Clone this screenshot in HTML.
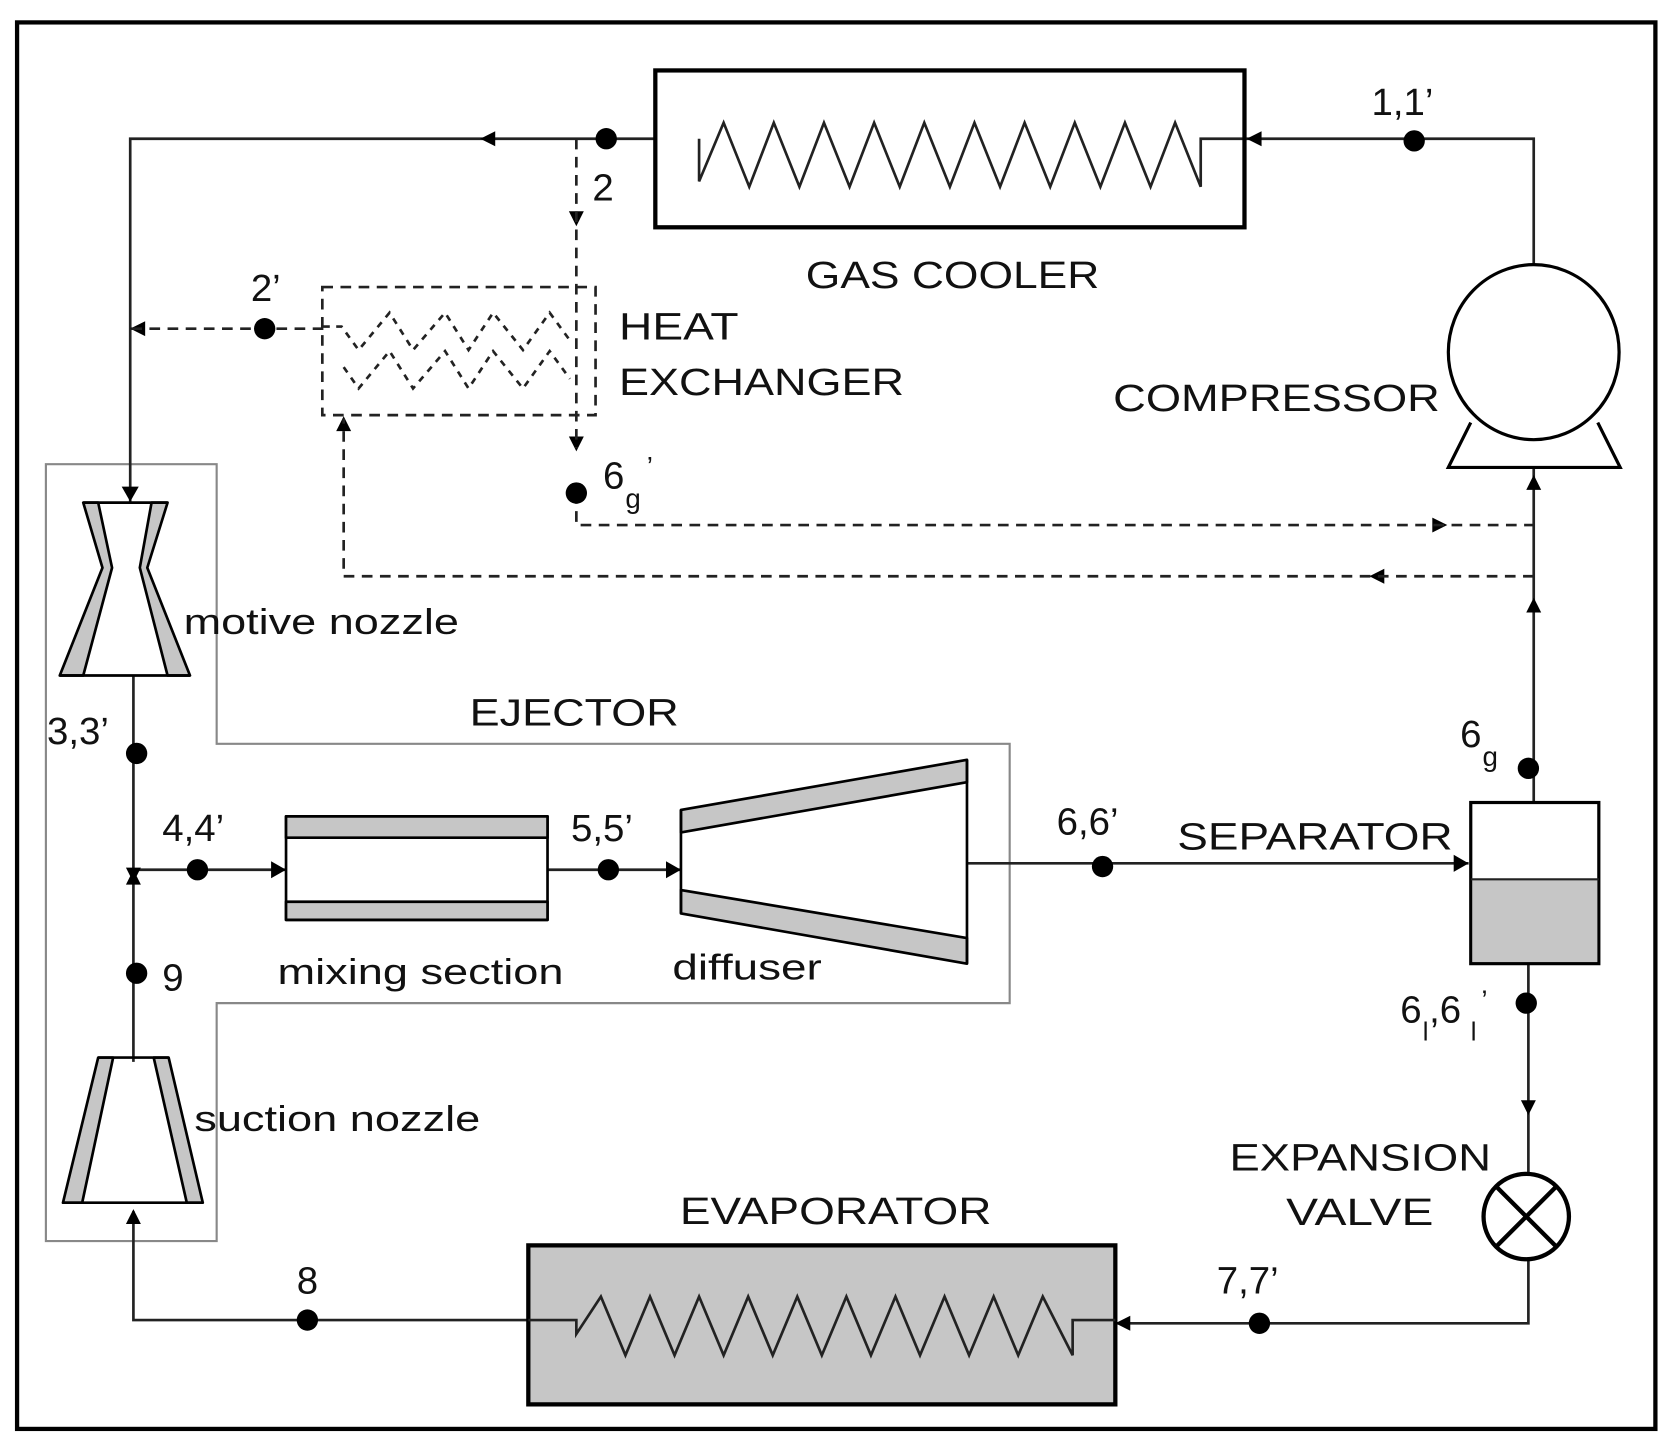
<!DOCTYPE html>
<html><head><meta charset="utf-8"><style>
html,body{margin:0;padding:0;background:#fff;width:1665px;height:1446px;overflow:hidden}
svg{display:block}
text{font-family:"Liberation Sans",Arial,sans-serif;fill:#111}
</style></head><body>
<svg width="1665" height="1446" viewBox="0 0 1560 1355" preserveAspectRatio="none" xmlns="http://www.w3.org/2000/svg">
<rect width="1560" height="1355" fill="#fff"/>
<rect x="16" y="21" width="1535" height="1318" fill="none" stroke="#000" stroke-width="4"/>

<path d="M43,435H203V697H946V940H203V1163H43Z" fill="none" stroke="#888" stroke-width="2"/>

<g stroke="#222" stroke-width="2.5" fill="none">
<path d="M1437,250V130H1166"/>
<path d="M614,130H122V470"/>
<path d="M655,130V170L678,115L702,175L725,115L749,175L772,115L796,175L819,115L843,175L866,115L890,175L913,115L937,175L960,115L984,175L1007,115L1031,175L1054,115L1078,175L1101,115L1125,175V130H1166"/>
<path d="M1437,438V752"/>
<path d="M1432,903V1100"/>
<path d="M1432,1180V1240H1045"/>
<path d="M495,1237H125V1135"/>
<path d="M125,633V995"/>
<path d="M125,815H268"/>
<path d="M513,815H638"/>
<path d="M906,809H1376"/>
</g>
<g fill="#000">
<path d="M1168,130l14,-7v14z"/>
<path d="M450,130l14,-7v14z"/>
<path d="M122,470l-8,-14h16z"/>
<path d="M540,212l-7,-14h14z"/>
<path d="M540,423l-7,-14h14z"/>
<path d="M122,308l14,-7v14z"/>
<path d="M1356,492l-14,-7v14z"/>
<path d="M1283,540l14,-7v14z"/>
<path d="M322,390l-7,14h14z"/>
<path d="M1437,445l-7,14h14z"/>
<path d="M1437,560l-7,14h14z"/>
<path d="M1376,809l-14,-8v16z"/>
<path d="M1432,1045l-7,-14h14z"/>
<path d="M1045,1240l14,-7v14z"/>
<path d="M125,1133l-7,14h14z"/>
<path d="M125,827l-7,-14h14z"/>
<path d="M125,815l-7,14h14z"/>
<path d="M268,815l-14,-8v16z"/>
<path d="M638,815l-14,-8v16z"/>
</g>
<g stroke="#222" stroke-width="2.5" fill="none" stroke-dasharray="10,7">
<path d="M540,130V420"/>
<path d="M303,308H122"/>
<path d="M540,462V492H1437"/>
<path d="M1437,540H322V392"/>
<rect x="302" y="269" width="256" height="120"/>
</g>
<g stroke="#222" stroke-width="2.5" fill="none" stroke-dasharray="6,6">
<path d="M303,306H320L336,328L365,293L387,328L417,293L439,328L462,293L490,328L515,293L534,319"/>
<path d="M322,344L336,364L365,329L387,364L417,329L439,364L462,329L490,364L515,329L534,355"/>
</g>
<rect x="614" y="66" width="552" height="147" fill="none" stroke="#000" stroke-width="4"/>
<rect x="495" y="1167" width="550" height="149" fill="#c6c6c6" stroke="#000" stroke-width="4"/>
<path d="M495,1237H540V1250L563,1215L586,1270L609,1215L632,1270L655,1215L678,1270L701,1215L724,1270L747,1215L770,1270L793,1215L816,1270L839,1215L862,1270L885,1215L908,1270L931,1215L954,1270L977,1215L1005,1270V1237H1045" fill="none" stroke="#222" stroke-width="2.5"/>
<ellipse cx="1437" cy="330" rx="80" ry="82" fill="#fff" stroke="#000" stroke-width="3"/>
<path d="M1378,396L1357,438H1518L1497,396" fill="none" stroke="#000" stroke-width="3"/>
<rect x="1378" y="752" width="120" height="151" fill="#fff" stroke="#000" stroke-width="3"/>
<rect x="1379.5" y="824" width="117" height="77.5" fill="#c6c6c6"/>
<line x1="1378" y1="824" x2="1498" y2="824" stroke="#222" stroke-width="2"/>
<circle cx="1430" cy="1140" r="40" fill="#fff" stroke="#000" stroke-width="4"/>
<path d="M1402,1112L1458,1168M1458,1112L1402,1168" stroke="#000" stroke-width="4"/>
<g stroke="#000" stroke-width="2.5" stroke-linejoin="round">
<path d="M78,471H92L105,532L78,633H56L96,532Z" fill="#c6c6c6"/>
<path d="M142,471H157L138,532L178,633H157L131,532Z" fill="#c6c6c6"/>
<path d="M78,471H157M56,633H178" fill="none"/>
<path d="M92,991H106L77,1127H59Z" fill="#c6c6c6"/>
<path d="M144,991H158L190,1127H175Z" fill="#c6c6c6"/>
<path d="M92,991H158M59,1127H190" fill="none"/>
<rect x="268" y="765" width="245" height="97" fill="#fff"/>
<rect x="268" y="765" width="245" height="20" fill="#c6c6c6"/>
<rect x="268" y="845" width="245" height="17" fill="#c6c6c6"/>
<path d="M638,759L906,712V733L638,780Z" fill="#c6c6c6"/>
<path d="M638,834L906,879V903L638,856Z" fill="#c6c6c6"/>
<path d="M638,759V856M906,712V903" fill="none"/>
</g>
<g fill="#000">
<circle cx="568" cy="130" r="10"/>
<circle cx="1325" cy="132" r="10"/>
<circle cx="248" cy="308" r="10"/>
<circle cx="540" cy="462" r="10"/>
<circle cx="1432" cy="720" r="10"/>
<circle cx="1033" cy="812" r="10"/>
<circle cx="1430" cy="940" r="10"/>
<circle cx="1180" cy="1240" r="10"/>
<circle cx="288" cy="1237" r="10"/>
<circle cx="128" cy="706" r="10"/>
<circle cx="185" cy="815" r="10"/>
<circle cx="570" cy="815" r="10"/>
<circle cx="128" cy="912" r="10"/>
</g>
<g font-size="36">
<text x="1285" y="108">1,1’</text>
<text x="555" y="188">2</text>
<text x="755" y="270" textLength="275" lengthAdjust="spacingAndGlyphs">GAS COOLER</text>
<text x="235" y="282">2’</text>
<text x="580" y="318" textLength="112" lengthAdjust="spacingAndGlyphs">HEAT</text>
<text x="580" y="370" textLength="267" lengthAdjust="spacingAndGlyphs">EXCHANGER</text>
<text x="1043" y="385" textLength="306" lengthAdjust="spacingAndGlyphs">COMPRESSOR</text>
<text x="565" y="458">6</text><text x="586" y="476" font-size="26">g</text><text x="606" y="446" font-size="26">’</text>
<text x="440" y="680" textLength="196" lengthAdjust="spacingAndGlyphs">EJECTOR</text>
<text x="44" y="697">3,3’</text>
<text x="1368" y="700">6</text><text x="1389" y="718" font-size="26">g</text>
<text x="152" y="788">4,4’</text>
<text x="535" y="788">5,5’</text>
<text x="990" y="782">6,6’</text>
<text x="1103" y="796" textLength="258" lengthAdjust="spacingAndGlyphs">SEPARATOR</text>
<text x="152" y="928">9</text>
<text x="1312" y="958">6</text><text x="1333" y="975" font-size="24">l</text><text x="1339" y="958">,6</text><text x="1378" y="975" font-size="24">l</text><text x="1388" y="946" font-size="26">’</text>
<text x="1152" y="1097" textLength="245" lengthAdjust="spacingAndGlyphs">EXPANSION</text>
<text x="1205" y="1148" textLength="138" lengthAdjust="spacingAndGlyphs">VALVE</text>
<text x="637" y="1147" textLength="292" lengthAdjust="spacingAndGlyphs">EVAPORATOR</text>
<text x="1140" y="1212">7,7’</text>
<text x="278" y="1212">8</text>
</g>
<g font-size="34">
<text x="172" y="594" textLength="258" lengthAdjust="spacingAndGlyphs">motive nozzle</text>
<text x="260" y="922" textLength="268" lengthAdjust="spacingAndGlyphs">mixing section</text>
<text x="630" y="918" textLength="140" lengthAdjust="spacingAndGlyphs">diffuser</text>
<text x="182" y="1060" textLength="268" lengthAdjust="spacingAndGlyphs">suction nozzle</text>
</g>
</svg>
</body></html>
